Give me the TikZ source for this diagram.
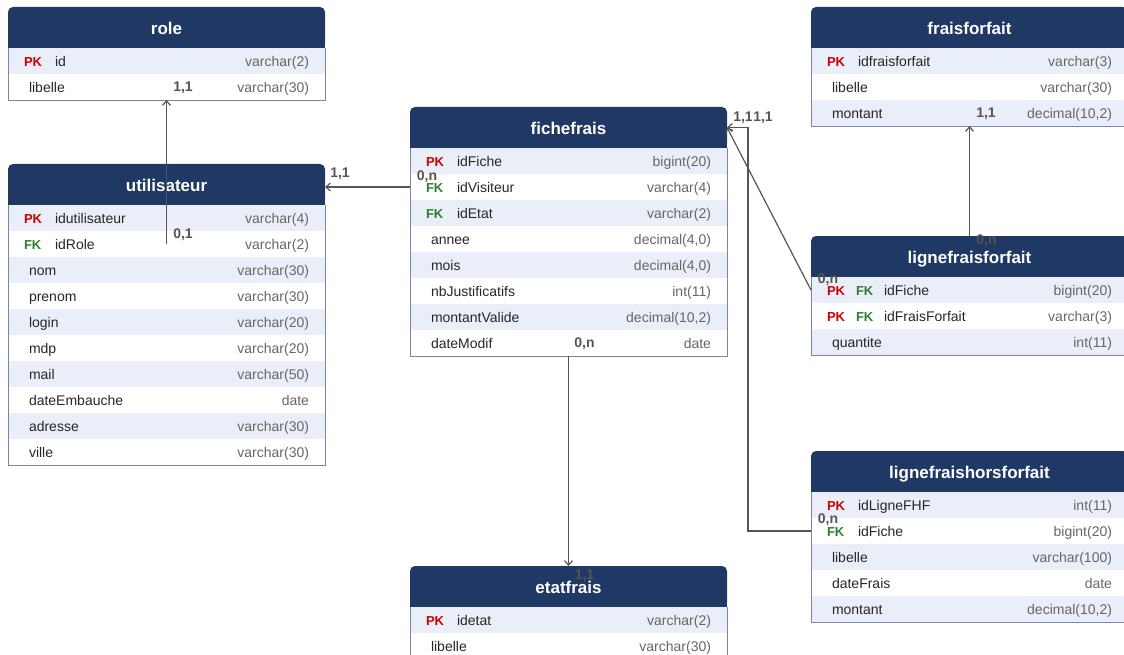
\documentclass[tikz,border=0pt]{standalone}
\usepackage{fontspec}
\setmainfont{Liberation Sans}
\usetikzlibrary{positioning,arrows.meta,backgrounds}

\definecolor{hdrblue}{RGB}{31,56,100}
\definecolor{rowshade}{RGB}{233,238,248}
\definecolor{tblline}{RGB}{120,135,165}
\definecolor{pkred}{RGB}{204,0,0}
\definecolor{fkgreen}{RGB}{46,125,50}
\definecolor{typegray}{RGB}{102,102,102}
\definecolor{linkgray}{RGB}{85,85,85}

% one line of a table: key, field, type
\newcommand{\fld}[3]{\hbox to 285pt{#1#2\hfill\textcolor{typegray}{#3}}}
\newcommand{\keytag}[2]{\textcolor{#1}{\fontsize{13}{15}\selectfont\bfseries #2}}
\newcommand{\pk}{\makebox[31pt][l]{\keytag{pkred}{PK}}}
\newcommand{\fk}{\makebox[31pt][l]{\keytag{fkgreen}{FK}}}
\newcommand{\pkfk}{\makebox[29pt][l]{\keytag{pkred}{PK}}\makebox[28pt][l]{\keytag{fkgreen}{FK}}}
\newcommand{\nk}{\hspace*{5pt}}

\tikzset{
  tblhead/.style={fill=hdrblue, text=white, rounded corners=5pt, anchor=north west,
    minimum width=317pt, minimum height=41pt, inner sep=0pt, outer sep=0pt,
    text height=15pt, text depth=1pt, font=\fontsize{17}{20}\selectfont\bfseries},
  tblrow/.style={minimum width=317pt, minimum height=26pt, inner xsep=16pt, inner ysep=0pt,
    outer sep=0pt, text height=12pt, text depth=1pt, text=black!85,
    font=\fontsize{14}{16}\selectfont},
  shaded/.style={fill=rowshade},
  tblborder/.style={draw=tblline, line width=0.9pt},
  link/.style={draw=linkgray, line width=1.2pt, -{Straight Barb[length=4.5pt,width=8pt]}},
  card/.style={text=linkgray, inner sep=0pt, font=\fontsize{14}{16}\selectfont\bfseries}
}

\begin{document}
\begin{tikzpicture}[x=1pt,y=1pt]
  \useasboundingbox (0,0) rectangle (1124,-655);

  % role
  \node[tblhead] (role) at (8,-7) {role};
  \node[tblrow, shaded, below=0pt of role] (role-1) {\fld{\pk}{id}{varchar(2)}};
  \node[tblrow, below=0pt of role-1] (role-2) {\fld{\nk}{libelle}{varchar(30)}};

  % utilisateur
  \node[tblhead] (utilisateur) at (8,-164) {utilisateur};
  \node[tblrow, shaded, below=0pt of utilisateur] (utilisateur-1) {\fld{\pk}{idutilisateur}{varchar(4)}};
  \node[tblrow, below=0pt of utilisateur-1] (utilisateur-2) {\fld{\fk}{idRole}{varchar(2)}};
  \node[tblrow, shaded, below=0pt of utilisateur-2] (utilisateur-3) {\fld{\nk}{nom}{varchar(30)}};
  \node[tblrow, below=0pt of utilisateur-3] (utilisateur-4) {\fld{\nk}{prenom}{varchar(30)}};
  \node[tblrow, shaded, below=0pt of utilisateur-4] (utilisateur-5) {\fld{\nk}{login}{varchar(20)}};
  \node[tblrow, below=0pt of utilisateur-5] (utilisateur-6) {\fld{\nk}{mdp}{varchar(20)}};
  \node[tblrow, shaded, below=0pt of utilisateur-6] (utilisateur-7) {\fld{\nk}{mail}{varchar(50)}};
  \node[tblrow, below=0pt of utilisateur-7] (utilisateur-8) {\fld{\nk}{dateEmbauche}{date}};
  \node[tblrow, shaded, below=0pt of utilisateur-8] (utilisateur-9) {\fld{\nk}{adresse}{varchar(30)}};
  \node[tblrow, below=0pt of utilisateur-9] (utilisateur-10) {\fld{\nk}{ville}{varchar(30)}};

  % fichefrais
  \node[tblhead] (fichefrais) at (410,-107) {fichefrais};
  \node[tblrow, shaded, below=0pt of fichefrais] (fichefrais-1) {\fld{\pk}{idFiche}{bigint(20)}};
  \node[tblrow, below=0pt of fichefrais-1] (fichefrais-2) {\fld{\fk}{idVisiteur}{varchar(4)}};
  \node[tblrow, shaded, below=0pt of fichefrais-2] (fichefrais-3) {\fld{\fk}{idEtat}{varchar(2)}};
  \node[tblrow, below=0pt of fichefrais-3] (fichefrais-4) {\fld{\nk}{annee}{decimal(4,0)}};
  \node[tblrow, shaded, below=0pt of fichefrais-4] (fichefrais-5) {\fld{\nk}{mois}{decimal(4,0)}};
  \node[tblrow, below=0pt of fichefrais-5] (fichefrais-6) {\fld{\nk}{nbJustificatifs}{int(11)}};
  \node[tblrow, shaded, below=0pt of fichefrais-6] (fichefrais-7) {\fld{\nk}{montantValide}{decimal(10,2)}};
  \node[tblrow, below=0pt of fichefrais-7] (fichefrais-8) {\fld{\nk}{dateModif}{date}};

  % etatfrais
  \node[tblhead] (etatfrais) at (410,-566) {etatfrais};
  \node[tblrow, shaded, below=0pt of etatfrais] (etatfrais-1) {\fld{\pk}{idetat}{varchar(2)}};
  \node[tblrow, below=0pt of etatfrais-1] (etatfrais-2) {\fld{\nk}{libelle}{varchar(30)}};

  % fraisforfait
  \node[tblhead] (fraisforfait) at (811,-7) {fraisforfait};
  \node[tblrow, shaded, below=0pt of fraisforfait] (fraisforfait-1) {\fld{\pk}{idfraisforfait}{varchar(3)}};
  \node[tblrow, below=0pt of fraisforfait-1] (fraisforfait-2) {\fld{\nk}{libelle}{varchar(30)}};
  \node[tblrow, shaded, below=0pt of fraisforfait-2] (fraisforfait-3) {\fld{\nk}{montant}{decimal(10,2)}};

  % lignefraisforfait
  \node[tblhead] (lignefraisforfait) at (811,-236) {lignefraisforfait};
  \node[tblrow, shaded, below=0pt of lignefraisforfait] (lignefraisforfait-1) {\fld{\pkfk}{idFiche}{bigint(20)}};
  \node[tblrow, below=0pt of lignefraisforfait-1] (lignefraisforfait-2) {\fld{\pkfk}{idFraisForfait}{varchar(3)}};
  \node[tblrow, shaded, below=0pt of lignefraisforfait-2] (lignefraisforfait-3) {\fld{\nk}{quantite}{int(11)}};

  % lignefraishorsforfait
  \node[tblhead] (lignefraishorsforfait) at (811,-451) {lignefraishorsforfait};
  \node[tblrow, shaded, below=0pt of lignefraishorsforfait] (lignefraishorsforfait-1) {\fld{\pk}{idLigneFHF}{int(11)}};
  \node[tblrow, below=0pt of lignefraishorsforfait-1] (lignefraishorsforfait-2) {\fld{\fk}{idFiche}{bigint(20)}};
  \node[tblrow, shaded, below=0pt of lignefraishorsforfait-2] (lignefraishorsforfait-3) {\fld{\nk}{libelle}{varchar(100)}};
  \node[tblrow, below=0pt of lignefraishorsforfait-3] (lignefraishorsforfait-4) {\fld{\nk}{dateFrais}{date}};
  \node[tblrow, shaded, below=0pt of lignefraishorsforfait-4] (lignefraishorsforfait-5) {\fld{\nk}{montant}{decimal(10,2)}};

  % square off the lower corners of the headers
  \begin{scope}[on background layer]
    \foreach \t in {role,utilisateur,fichefrais,etatfrais,fraisforfait,lignefraisforfait,lignefraishorsforfait}
      \fill[hdrblue] (\t.west) rectangle (\t.south east);
  \end{scope}
  \foreach \t/\n in {role/2,utilisateur/10,fichefrais/8,etatfrais/2,fraisforfait/3,lignefraisforfait/3,lignefraishorsforfait/5}
    \draw[tblborder] (\t.south west) |- (\t-\n.south east) -- (\t.south east);

  % links
  \draw[link] (utilisateur-2.center) -- (role-2.south);
  \draw[link] (fichefrais-2.west) -- (fichefrais-2.west -| utilisateur.east);
  \draw[link] (fichefrais-8.south) -- (etatfrais.north);
  \draw[link] (lignefraisforfait-1.west) -- (fichefrais.east);
  \draw[link] (lignefraishorsforfait-2.west) -- ++(-63,0) |- (fichefrais.east);
  \draw[link] (lignefraisforfait.north) -- (fraisforfait-3.south);

  % cardinalities
  \node[card] at ([shift={(16.5,12)}]role-2.south) {1,1};
  \node[card] at ([shift={(16.5,9)}]utilisateur-2.center) {0,1};
  \node[card] at ([shift={(15,13)}]fichefrais-2.west -| utilisateur.east) {1,1};
  \node[card] at ([shift={(17,10)}]fichefrais-2.west) {0,n};
  \node[card] at ([shift={(16,12)}]fichefrais-8.south) {0,n};
  \node[card] at ([shift={(16,-10)}]etatfrais.north) {1,1};
  \node[card] at ([shift={(16,9.5)}]fichefrais.east) {1,1};
  \node[card] at ([shift={(36,9.5)}]fichefrais.east) {1,1};
  \node[card] at ([shift={(16.5,12)}]fraisforfait-3.south) {1,1};
  \node[card] at ([shift={(17,-5)}]lignefraisforfait.north) {0,n};
  \node[card] at ([shift={(17,10)}]lignefraisforfait-1.west) {0,n};
  \node[card] at ([shift={(17,11)}]lignefraishorsforfait-2.west) {0,n};
\end{tikzpicture}
\end{document}
